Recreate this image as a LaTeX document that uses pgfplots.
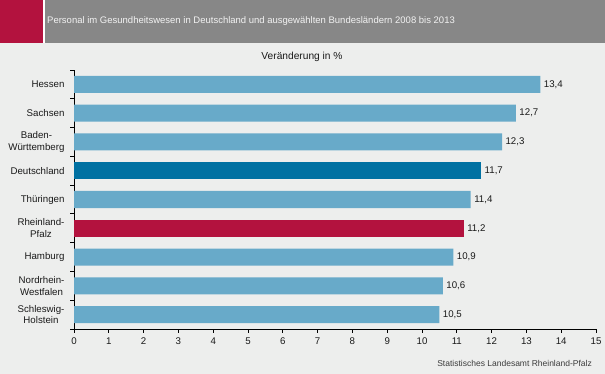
\documentclass[border=0pt]{standalone}
\usepackage{fontspec}
\setmainfont{Liberation Sans}
\usepackage{pgfplots}
\pgfplotsset{compat=1.18}
\definecolor{bg}{HTML}{EDEEED}
\definecolor{rpred}{HTML}{B3123E}
\definecolor{titlegray}{HTML}{878787}
\definecolor{barblue}{HTML}{68AAC9}
\definecolor{dblue}{HTML}{0071A2}
\definecolor{txt}{HTML}{1A1A1A}
\begin{document}
\begin{tikzpicture}[x=1pt,y=1pt]
\useasboundingbox (0,0) rectangle (605,374);
\fill[bg] (0,0) rectangle (605,374);
\fill[rpred] (0,331) rectangle (43,374);
\fill[white] (43,331) rectangle (45,374);
\fill[titlegray] (45,331) rectangle (605,374);
\node[anchor=west, text=white!95!black, inner sep=0pt, font=\fontsize{9.5}{11}\selectfont] at (47,352.5) {Personal im Gesundheitswesen in Deutschland und ausgewählten Bundesländern 2008 bis 2013};
\node[text=txt, inner sep=0pt, font=\fontsize{10.2}{12}\selectfont] at (302,317) {Veränderung in \%};
\node[anchor=east, text=txt!85!white, inner sep=0pt, font=\fontsize{8.5}{10}\selectfont] at (592,11) {Statistisches Landesamt Rheinland-Pfalz};
\begin{axis}[
  at={(74pt,45pt)}, anchor=south west,
  scale only axis, width=522pt, height=259pt,
  xmin=0, xmax=15, ymin=-0.5, ymax=8.5,
  axis lines*=left,
  axis line style={black, line width=0.9pt},
  xtick={0,...,15},
  ytick={0,...,8},
  yticklabels={{Schleswig-\\Holstein},{Nordrhein-\\Westfalen},Hamburg,{Rheinland-\\Pfalz},Thüringen,Deutschland,{Baden-\\Württemberg},Sachsen,Hessen},
  y tick label style={align=center, font=\fontsize{9.7}{11.5}\selectfont, text=txt, xshift=-2pt},
  x tick label style={font=\fontsize{9.7}{11}\selectfont, text=txt, yshift=-1.5pt},
  /pgf/number format/assume math mode=true,
  tick align=outside,
  major tick length=4pt,
  minor tick length=4pt,
  major x tick style={black, line width=0.9pt},
  major y tick style={draw=none},
  minor ytick={-0.5,0.5,...,8.5},
  minor y tick style={black, line width=0.9pt},
  xbar, bar width=17pt,
  nodes near coords,
  point meta=x,
  nodes near coords style={font=\fontsize{9.7}{11}\selectfont, text=txt, /pgf/number format/.cd, fixed, fixed zerofill, precision=1, use comma},
  clip=false,
]
\addplot[fill=barblue, draw=none, bar shift=0pt] coordinates {(13.4,8) (12.7,7) (12.3,6) (11.4,4) (10.9,2) (10.6,1) (10.5,0)};
\addplot[fill=dblue, draw=none, bar shift=0pt] coordinates {(11.7,5)};
\addplot[fill=rpred, draw=none, bar shift=0pt] coordinates {(11.2,3)};
\end{axis}
\end{tikzpicture}
\end{document}
